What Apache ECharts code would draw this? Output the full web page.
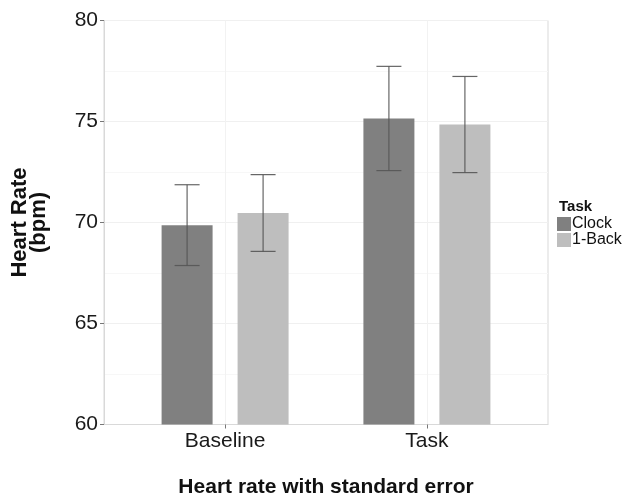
<!DOCTYPE html>
<html>
<head>
<meta charset="utf-8">
<script src="https://cdn.jsdelivr.net/npm/echarts@6/dist/echarts.min.js"></script>
<style>
html,body{margin:0;padding:0;background:#fff;}
#c{width:629px;height:500px;}
</style>
</head>
<body>
<div id="c"></div>
<script>
// ---- data ----
var categories = ['Baseline', 'Task'];
var seriesNames = ['Clock', '1-Back'];
var clockMean = [69.87, 75.15];
var clockSE = [2.0, 2.58];
var backMean = [70.47, 74.85];
var backSE = [1.9, 2.38];
var yTicks = [60, 65, 70, 75, 80];

// ---- styles ----
var FONT = "'Liberation Sans', Arial, sans-serif";
var BAR_W = 51;
var BAR_GAP = 25;
var CAP_W = 25;
var colors = ['#808080', '#bebebe'];

var chart = echarts.init(document.getElementById('c'), null, {renderer: 'canvas'});

function barData(means) {
  return means.map(function (v, i) { return [i + 1, v]; });
}
function errData(means, ses) {
  return means.map(function (v, i) { return [i + 1, v - ses[i], v + ses[i]]; });
}
function errRender(sign) {
  return function (params, api) {
    var off = sign * (BAR_W + BAR_GAP) / 2;
    var lo = api.coord([api.value(0), api.value(1)]);
    var hi = api.coord([api.value(0), api.value(2)]);
    var x = lo[0] + off;
    var st = {stroke: '#555555', lineWidth: 1.2, opacity: 0.9};
    return {
      type: 'group',
      children: [
        {type: 'line', shape: {x1: x, y1: lo[1], x2: x, y2: hi[1]}, style: st},
        {type: 'line', shape: {x1: x - CAP_W / 2, y1: lo[1], x2: x + CAP_W / 2, y2: lo[1]}, style: st},
        {type: 'line', shape: {x1: x - CAP_W / 2, y1: hi[1], x2: x + CAP_W / 2, y2: hi[1]}, style: st}
      ]
    };
  };
}

var option = {
  backgroundColor: '#ffffff',
  animation: false,
  textStyle: {fontFamily: FONT},
  title: {
    text: 'Task',
    left: 559,
    top: 199,
    padding: 0,
    textStyle: {fontFamily: FONT, fontSize: 15, fontWeight: 'bold', color: '#111111'}
  },
  legend: {
    data: seriesNames,
    orient: 'vertical',
    left: 557,
    top: 216,
    padding: 0,
    itemWidth: 14,
    itemHeight: 14,
    itemGap: 0,
    icon: 'rect',
    textStyle: {fontFamily: FONT, fontSize: 16, color: '#111111', lineHeight: 14, padding: [0, 0, 0, -4]}
  },
  grid: {
    left: 104,
    right: 81,
    top: 20.5,
    bottom: 75.5,
    containLabel: false,
    outerBoundsMode: 'none',
    show: true,
    borderColor: '#d9d9d9',
    borderWidth: 1,
    backgroundColor: '#ffffff'
  },
  xAxis: {
    type: 'value',
    min: 0.4,
    max: 2.6,
    name: 'Heart rate with standard error',
    nameLocation: 'middle',
    nameGap: 52,
    nameTextStyle: {fontFamily: FONT, fontSize: 21, fontWeight: 'bold', color: '#111111'},
    axisLine: {show: true, lineStyle: {color: '#d9d9d9', width: 1}},
    axisTick: {show: true, customValues: [1, 2], length: 4, lineStyle: {color: '#777777'}},
    axisLabel: {
      customValues: [1, 2],
      margin: 6,
      fontFamily: FONT,
      fontSize: 21,
      color: '#1a1a1a',
      formatter: function (v) { return categories[Math.round(v) - 1] || ''; }
    },
    splitLine: {show: true, lineStyle: {color: '#f2f2f2', width: 1}}
  },
  yAxis: {
    type: 'value',
    min: yTicks[0],
    max: yTicks[yTicks.length - 1],
    interval: 5,
    name: 'Heart Rate\n(bpm)',
    nameLocation: 'middle',
    nameRotate: 90,
    nameGap: 56,
    nameTextStyle: {fontFamily: FONT, fontSize: 22, fontWeight: 'bold', color: '#111111', lineHeight: 19},
    axisLine: {show: true, lineStyle: {color: '#d9d9d9', width: 1}},
    axisTick: {show: true, length: 4, lineStyle: {color: '#777777'}},
    axisLabel: {margin: 6, fontFamily: FONT, fontSize: 21, color: '#1a1a1a'},
    splitLine: {show: true, lineStyle: {color: '#f0f0f0', width: 1}},
    minorTick: {show: false, splitNumber: 2},
    minorSplitLine: {show: true, lineStyle: {color: '#f7f7f7', width: 1}}
  },
  series: [
    {
      name: seriesNames[0], type: 'bar', data: barData(clockMean),
      barWidth: BAR_W, barGap: (BAR_GAP / BAR_W * 100) + '%',
      itemStyle: {color: colors[0]}, clip: true, z: 2
    },
    {
      name: seriesNames[1], type: 'bar', data: barData(backMean),
      barWidth: BAR_W, barGap: (BAR_GAP / BAR_W * 100) + '%',
      itemStyle: {color: colors[1]}, clip: true, z: 2
    },
    {
      type: 'custom', data: errData(clockMean, clockSE), renderItem: errRender(-1),
      encode: {x: 0, y: [1, 2]}, z: 5, silent: true
    },
    {
      type: 'custom', data: errData(backMean, backSE), renderItem: errRender(1),
      encode: {x: 0, y: [1, 2]}, z: 5, silent: true
    }
  ]
};
chart.setOption(option);
</script>
</body>
</html>
